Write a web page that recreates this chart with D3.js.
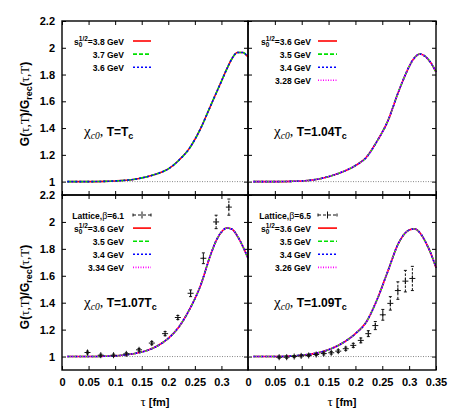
<!DOCTYPE html>
<html>
<head>
<meta charset="utf-8">
<script src="https://cdnjs.cloudflare.com/ajax/libs/d3/7.8.5/d3.min.js"></script>
<style>
body { margin: 0; background: #fff; }
text { font-family: "Liberation Sans", Arial, sans-serif; font-weight: bold; fill: #000; }
.greek { font-family: "Liberation Serif", "DejaVu Serif", serif; font-weight: normal; }
</style>
</head>
<body>
<svg id="svg"></svg>
<script>
// Data

// tau grid [fm] for the sum rule curves
var tauGrid = [0.01, 0.05, 0.08, 0.1, 0.12, 0.14, 0.16, 0.18, 0.2, 0.22, 0.24, 0.26, 0.28, 0.29, 0.3, 0.31, 0.32, 0.33, 0.34, 0.35];

// G/G_rec for each temperature (all s0 curves lie on top of each other)
var ratioTc  = [1.0, 1.0, 1.002, 1.005, 1.01, 1.02, 1.037, 1.06, 1.095, 1.16, 1.25, 1.39, 1.57, 1.66, 1.75, 1.84, 1.92, 1.965, 1.965, 1.93];
var ratio104 = [1.0, 1.0, 1.002, 1.005, 1.012, 1.027, 1.05, 1.08, 1.12, 1.18, 1.30, 1.45, 1.67, 1.77, 1.86, 1.925, 1.953, 1.935, 1.89, 1.82];
var ratio107 = [1.0, 1.0, 1.002, 1.005, 1.013, 1.025, 1.045, 1.08, 1.135, 1.22, 1.35, 1.52, 1.76, 1.86, 1.925, 1.955, 1.945, 1.895, 1.82, 1.73];
var ratio109 = [1.0, 1.0, 1.004, 1.01, 1.02, 1.038, 1.067, 1.11, 1.17, 1.255, 1.42, 1.63, 1.84, 1.905, 1.94, 1.948, 1.92, 1.855, 1.77, 1.66];

// s0^(1/2) values in the keys [GeV]
var s0Tc  = ["3.8", "3.7", "3.6"];
var s0104 = ["3.6", "3.5", "3.4", "3.28"];
var s0107 = ["3.6", "3.5", "3.4", "3.34"];
var s0109 = ["3.6", "3.5", "3.4", "3.26"];

// lattice points
var lat61Tau = [0.048, 0.073, 0.097, 0.121, 0.145, 0.169, 0.194, 0.218, 0.242, 0.266, 0.290, 0.314];
var lat61Val = [1.03, 1.01, 1.01, 1.02, 1.05, 1.10, 1.17, 1.29, 1.47, 1.73, 2.0, 2.11];
var lat61Err = [0.01, 0.008, 0.008, 0.008, 0.01, 0.012, 0.015, 0.015, 0.025, 0.04, 0.05, 0.06];

var lat65Tau = [0.058, 0.072, 0.086, 0.099, 0.113, 0.127, 0.141, 0.155, 0.168, 0.182, 0.196, 0.210, 0.224, 0.237, 0.251, 0.265, 0.279, 0.293, 0.306];
var lat65Val = [0.995, 0.995, 1.0, 1.005, 1.008, 1.015, 1.022, 1.028, 1.04, 1.058, 1.083, 1.12, 1.17, 1.23, 1.31, 1.395, 1.49, 1.56, 1.58];
var lat65Err = [0.008, 0.008, 0.008, 0.008, 0.008, 0.008, 0.01, 0.01, 0.01, 0.012, 0.015, 0.018, 0.022, 0.03, 0.04, 0.05, 0.065, 0.08, 0.09];

var xTicks = [0, 0.05, 0.1, 0.15, 0.2, 0.25, 0.3, 0.35];
var yTicks = [1, 1.2, 1.4, 1.6, 1.8, 2, 2.2];

// Styles
var lineColors = ["#ff0000", "#00e000", "#0000ff", "#ff00ff"];
var lineDashes = [null, "4,2", "2,2", "1,1.5"];
var lineWidth = 1.6;
var frameWidth = 1.4;

var width = 467;
var height = 414;
var svg = d3.select("#svg")
	.attr("width", width)
	.attr("height", height);

// panel geometry
var colX = [[62, 248], [248, 436]];
var rowY = [[195, 21], [370, 195]];

var panels = [
	{col: 0, row: 0, curve: ratioTc,  s0: s0Tc,  temp: "",     latTau: null,     latVal: null,     latErr: null,     beta: null},
	{col: 1, row: 0, curve: ratio104, s0: s0104, temp: "1.04", latTau: null,     latVal: null,     latErr: null,     beta: null},
	{col: 0, row: 1, curve: ratio107, s0: s0107, temp: "1.07", latTau: lat61Tau, latVal: lat61Val, latErr: lat61Err, beta: "6.1"},
	{col: 1, row: 1, curve: ratio109, s0: s0109, temp: "1.09", latTau: lat65Tau, latVal: lat65Val, latErr: lat65Err, beta: "6.5"}
];

function styleAxis(a) {
	a.select(".domain").remove();
	a.selectAll("line").attr("stroke", "#000").attr("stroke-width", 1);
	a.selectAll("text")
		.attr("font-family", "Liberation Sans, Arial, sans-serif")
		.attr("font-weight", "bold")
		.attr("font-size", 11);
}

function drawPanel(p) {
	var x = d3.scaleLinear().domain([0, 0.35]).range(colX[p.col]);
	var y = d3.scaleLinear().domain([0.9, 2.2]).range(rowY[p.row]);
	var g = svg.append("g");
	var x0 = colX[p.col][0], x1 = colX[p.col][1];
	var yb = rowY[p.row][0], yt = rowY[p.row][1];

	// ticks, all pointing inward
	var left = g.append("g").attr("transform", "translate(" + x0 + ",0)")
		.call(d3.axisLeft(y).tickValues(yTicks).tickSize(-4).tickPadding(7)
			.tickFormat(p.col == 0 ? function(d) { return String(d); } : ""));
	styleAxis(left);
	var right = g.append("g").attr("transform", "translate(" + x1 + ",0)")
		.call(d3.axisLeft(y).tickValues(yTicks).tickSize(4).tickFormat(""));
	styleAxis(right);
	var bottom = g.append("g").attr("transform", "translate(0," + yb + ")")
		.call(d3.axisBottom(x).tickValues(xTicks).tickSize(-4).tickPadding(8)
			.tickFormat(function(d) {
				if (p.row == 0) return "";
				if (p.col == 0 && d == 0.35) return "";
				return String(d);
			}));
	styleAxis(bottom);
	var top = g.append("g").attr("transform", "translate(0," + yt + ")")
		.call(d3.axisBottom(x).tickValues(xTicks).tickSize(4).tickFormat(""));
	styleAxis(top);

	// reference line at 1
	g.append("line")
		.attr("x1", x0).attr("x2", x1)
		.attr("y1", y(1)).attr("y2", y(1))
		.attr("stroke", "#888")
		.attr("stroke-width", 1)
		.attr("stroke-dasharray", "1,1.5");

	// sum rule curves
	var line = d3.line()
		.x(function(d, i) { return x(tauGrid[i]); })
		.y(function(d) { return y(d); })
		.curve(d3.curveMonotoneX);

	p.s0.forEach(function(s, i) {
		g.append("path")
			.attr("d", line(p.curve))
			.attr("fill", "none")
			.attr("stroke", lineColors[i])
			.attr("stroke-width", lineWidth)
			.attr("stroke-dasharray", lineDashes[i]);
	});

	// lattice points
	if (p.latTau) {
		var pts = p.latTau.map(function(t, i) { return {t: t, v: p.latVal[i], e: p.latErr[i]}; });
		var pg = g.selectAll(".lat")
			.data(pts)
			.enter()
			.append("g")
			.attr("stroke", "#111")
			.attr("stroke-width", 1);
		pg.append("line")
			.attr("x1", function(d) { return x(d.t); })
			.attr("x2", function(d) { return x(d.t); })
			.attr("y1", function(d) { return y(d.v - d.e); })
			.attr("y2", function(d) { return y(d.v + d.e); })
			.attr("stroke-dasharray", "2.5,1.5");
		pg.append("line")
			.attr("x1", function(d) { return x(d.t); })
			.attr("x2", function(d) { return x(d.t); })
			.attr("y1", function(d) { return y(d.v) - 3; })
			.attr("y2", function(d) { return y(d.v) + 3; });
		pg.append("line")
			.attr("x1", function(d) { return x(d.t) - 3; })
			.attr("x2", function(d) { return x(d.t) + 3; })
			.attr("y1", function(d) { return y(d.v); })
			.attr("y2", function(d) { return y(d.v); });
		[-1, 1].forEach(function(s) {
			pg.append("line")
				.attr("x1", function(d) { return x(d.t) - 1.5; })
				.attr("x2", function(d) { return x(d.t) + 1.5; })
				.attr("y1", function(d) { return y(d.v + s * d.e); })
				.attr("y2", function(d) { return y(d.v + s * d.e); });
		});
	}

	// frame
	g.append("rect")
		.attr("x", x0).attr("y", yt)
		.attr("width", x1 - x0).attr("height", yb - yt)
		.attr("fill", "none")
		.attr("stroke", "#000")
		.attr("stroke-width", frameWidth);

	drawKey(g, p);
	panelLabel(g, p);
}

function drawKey(g, p) {
	var textEnd = p.col == 0 ? 124 : 311;
	var s1 = p.col == 0 ? 133 : 318;
	var s2 = p.col == 0 ? 151 : 337;
	var row0 = p.row == 0 ? 41 : 215;
	var step = 13.1;
	var r = 0;

	if (p.latTau) {
		var ly = row0;
		var t = g.append("text").attr("x", textEnd).attr("y", ly + 3.5)
			.attr("text-anchor", "end").attr("font-size", 8.5);
		t.append("tspan").text("Lattice,");
		t.append("tspan").attr("class", "greek").attr("font-size", 10).text("β");
		t.append("tspan").text("=" + p.beta);
		var k = g.append("g").attr("stroke", "#111").attr("stroke-width", 1);
		k.append("line").attr("x1", s1).attr("x2", s2).attr("y1", ly).attr("y2", ly).attr("stroke-dasharray", "3,2");
		k.append("line").attr("x1", (s1 + s2) / 2).attr("x2", (s1 + s2) / 2).attr("y1", ly - 3.5).attr("y2", ly + 3.5);
		k.append("line").attr("x1", s1).attr("x2", s1).attr("y1", ly - 1.5).attr("y2", ly + 1.5);
		k.append("line").attr("x1", s2).attr("x2", s2).attr("y1", ly - 1.5).attr("y2", ly + 1.5);
		r = 1;
	}

	p.s0.forEach(function(s, i) {
		var ly = row0 + (r + i) * step;
		if (i == 0) {
			var main = g.append("text").attr("x", textEnd).attr("y", ly + 3.5)
				.attr("text-anchor", "end").attr("font-size", 8.5).text("=" + s + " GeV");
			var w = main.node().getComputedTextLength();
			var sup = g.append("text").attr("x", textEnd - w).attr("y", ly - 0.5)
				.attr("text-anchor", "end").attr("font-size", 6.5).text("1/2");
			var sw = sup.node().getComputedTextLength();
			g.append("text").attr("x", textEnd - w - sw).attr("y", ly + 5.5)
				.attr("font-size", 6.5).text("0");
			g.append("text").attr("x", textEnd - w - sw).attr("y", ly + 3.5)
				.attr("text-anchor", "end").attr("font-size", 8.5).text("s");
		} else {
			g.append("text").attr("x", textEnd).attr("y", ly + 3.5)
				.attr("text-anchor", "end").attr("font-size", 8.5).text(s + " GeV");
		}
		g.append("line")
			.attr("x1", s1).attr("x2", s2)
			.attr("y1", ly).attr("y2", ly)
			.attr("stroke", lineColors[i])
			.attr("stroke-width", lineWidth)
			.attr("stroke-dasharray", lineDashes[i]);
	});
}

function panelLabel(g, p) {
	var lx = p.col == 0 ? 84 : 274;
	var ly = p.row == 0 ? 136 : 307;
	var t = g.append("text").attr("x", lx).attr("y", ly).attr("font-size", 12);
	t.append("tspan").attr("class", "greek").attr("font-size", 15).text("χ");
	t.append("tspan").attr("class", "greek").attr("font-style", "italic").attr("font-size", 9.5).attr("dy", 3).text("c0");
	t.append("tspan").attr("class", "greek").attr("dy", -3).attr("font-size", 14).text(", ");
	t.append("tspan").text("T=" + p.temp + "T");
	t.append("tspan").attr("font-size", 9).attr("dy", 3).text("c");
}

function yLabel(cy) {
	var t = svg.append("text")
		.attr("transform", "translate(29," + cy + ") rotate(-90)")
		.attr("text-anchor", "middle")
		.attr("font-size", 12);
	t.append("tspan").text("G(");
	t.append("tspan").attr("class", "greek").attr("font-size", 13).text("τ,T");
	t.append("tspan").text(")/G");
	t.append("tspan").attr("font-size", 9).attr("dy", 3).text("rec");
	t.append("tspan").attr("dy", -3).text("(");
	t.append("tspan").attr("class", "greek").attr("font-size", 13).text("τ,T");
	t.append("tspan").text(")");
}

function xLabel(cx) {
	var t = svg.append("text")
		.attr("x", cx).attr("y", 406)
		.attr("text-anchor", "middle")
		.attr("font-size", 11);
	t.append("tspan").attr("class", "greek").attr("font-size", 13).text("τ");
	t.append("tspan").text(" [fm]");
}

panels.forEach(drawPanel);
yLabel(104);
yLabel(287);
xLabel(155);
xLabel(342);
</script>
</body>
</html>
